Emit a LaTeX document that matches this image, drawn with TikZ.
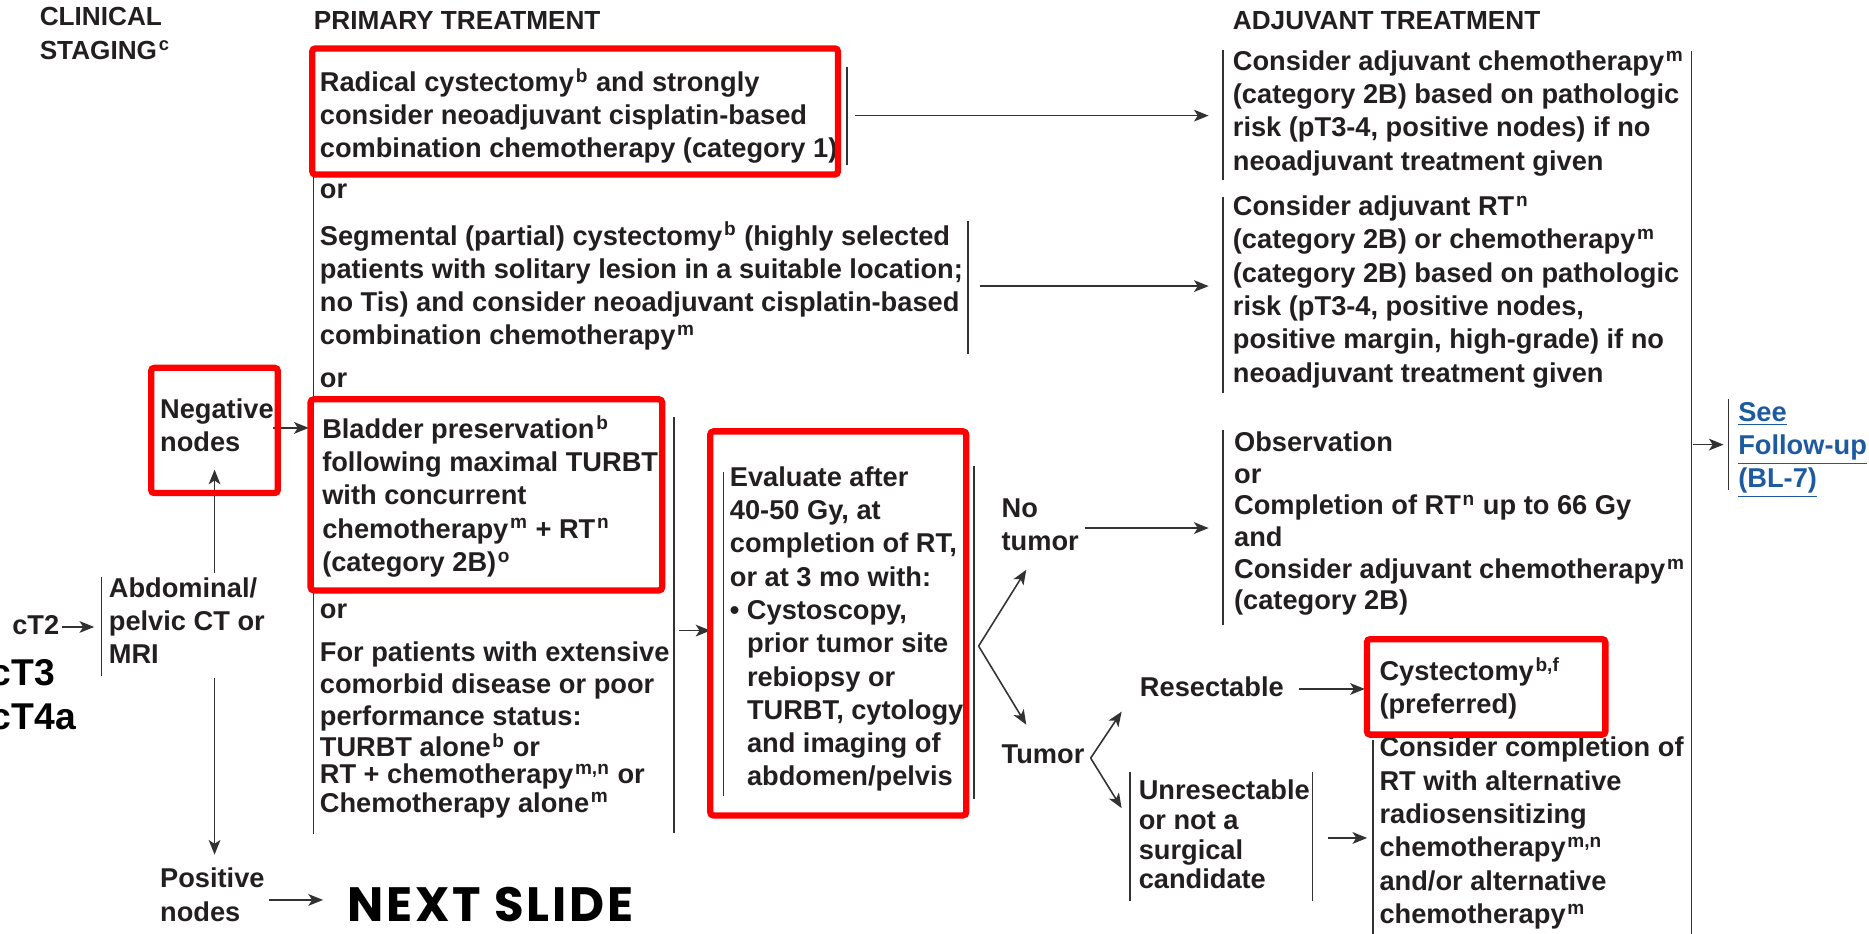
\documentclass[tikz,border=0pt]{standalone}
\usepackage{fontspec}
\setmainfont{Liberation Sans}
\newfontfamily\slidefont[LetterSpace=6]{Poppins}
\usetikzlibrary{arrows.meta}
\definecolor{textgray}{RGB}{35,31,32}
\definecolor{linegray}{RGB}{50,50,50}
\definecolor{boxred}{RGB}{255,0,0}
\definecolor{linkblue}{RGB}{30,90,160}
\newcommand{\hoch}[1]{\kern0.8pt\textsuperscript{#1}}

\tikzset{
  txt/.style={anchor=north west, inner sep=0pt, align=left, text=textgray,
    font=\fontsize{13}{15.9}\selectfont\bfseries, execute at begin node=\strut},
  head/.style={anchor=base west, inner sep=0pt, text=textgray,
    font=\fontsize{12.5}{15.9}\selectfont\bfseries},
  big/.style={anchor=base west, inner sep=0pt, text=black,
    font=\fontsize{17.8}{20}\selectfont\bfseries},
  bar/.style={draw=linegray, line width=0.7pt},
  pf/.style={draw=linegray, line width=0.75pt, -{Stealth[length=7pt,width=5.6pt,inset=1.8pt]}},
  redbox/.style={draw=boxred, line width=3pt, rounded corners=1.5pt},
}

\begin{document}
\begin{tikzpicture}[x=0.2mm, y=-0.2mm]
\useasboundingbox (0,0) rectangle (1568,783);

    % headers
    \node[txt, font=\fontsize{12.5}{15.9}\selectfont\bfseries] (clin) at (33,6) {CLINICAL\\STAGING\hoch{c}};
    \node[head] (prim) at (263,25) {PRIMARY TREATMENT};
    \node[head] (adjh) at (1034,25) {ADJUVANT TREATMENT};

    % clinical staging
    \node[txt] (ct2) at (10,512) {cT2};
    \node[big] (ct3) at (-8,575) {cT3};
    \node[big] (ct4) at (-8,612) {cT4a};
    \node[txt] (abd) at (91,484) {Abdominal/\\pelvic CT or\\MRI};
    \node[txt] (neg) at (134,334) {Negative\\nodes};
    \node[txt] (pos) at (134,728) {Positive\\nodes};
    \node[anchor=base west, inner sep=0pt, text=black,
        font=\slidefont\fontsize{23}{24}\selectfont\bfseries] (next) at (291,773) {NEXT SLIDE};

    % primary treatment
    \node[txt] (rad) at (268,57) {Radical cystectomy\hoch{b} and strongly\\consider neoadjuvant cisplatin-based\\combination chemotherapy (category 1)};
    \node[txt] (or1) at (268,147) {or};
    \node[txt] (seg) at (268,186) {Segmental (partial) cystectomy\hoch{b} (highly selected\\patients with solitary lesion in a suitable location;\\no Tis) and consider neoadjuvant cisplatin-based\\combination chemotherapy\hoch{m}};
    \node[txt] (or2) at (268,305) {or};
    \node[txt] (blad) at (270,348) {Bladder preservation\hoch{b}\\following maximal TURBT\\with concurrent\\chemotherapy\hoch{m} + RT\hoch{n}\\(category 2B)\hoch{o}};
    \node[txt] (or3) at (268,499) {or};
    \node[txt] (pat) at (268,538.4) {For patients with extensive\\[-0.8pt]comorbid disease or poor\\[-0.8pt]performance status:\\[-0.8pt]TURBT alone\hoch{b} or\\[-3pt]RT + chemotherapy\hoch{m,n} or\\[-2.4pt]Chemotherapy alone\hoch{m}};

    % evaluation
    \node[txt] (eval) at (612,391) {Evaluate after\\40-50 Gy, at\\completion of RT,\\or at 3 mo with:\\\textbullet\ Cystoscopy,\\\hphantom{\textbullet\ }prior tumor site\\\hphantom{\textbullet\ }rebiopsy or\\\hphantom{\textbullet\ }TURBT, cytology\\\hphantom{\textbullet\ }and imaging of\\\hphantom{\textbullet\ }abdomen/pelvis};
    \node[txt] (notum) at (840,418) {No\\tumor};
    \node[txt] (tum) at (840,621) {Tumor};
    \node[txt] (res) at (956,564) {Resectable};
    \node[txt] (unres) at (955,654) {Unresectable\\[-1.7pt]or not a\\[-1.7pt]surgical\\[-1.7pt]candidate};

    % adjuvant treatment
    \node[txt] (adj1) at (1034,42) {Consider adjuvant chemotherapy\hoch{m}\\(category 2B) based on pathologic\\risk (pT3-4, positive nodes) if no\\neoadjuvant treatment given};
    \node[txt] (adj2) at (1034,164) {Consider adjuvant RT\hoch{n}\\(category 2B) or chemotherapy\hoch{m}\\(category 2B) based on pathologic\\risk (pT3-4, positive nodes,\\positive margin, high-grade) if no\\neoadjuvant treatment given};
    \node[txt] (obs) at (1035,362) {Observation\\[-0.8pt]or\\[-0.8pt]Completion of RT\hoch{n} up to 66 Gy\\[-0.8pt]and\\[-0.8pt]Consider adjuvant chemotherapy\hoch{m}\\[-0.8pt](category 2B)};
    \node[txt] (cyst) at (1157,551) {Cystectomy\hoch{b,f}\\(preferred)};
    \node[txt] (comp) at (1157,618) {Consider completion of\\RT with alternative\\radiosensitizing\\chemotherapy\hoch{m,n}\\and/or alternative\\chemotherapy\hoch{m}};
    \node[txt, text=linkblue] (see) at (1458,337) {\underline{See}\\\underline{Follow-up}\\\underline{(BL-7)}};

    % bars
    \draw[bar] (85,484) -- (85,567);
    \draw[bar] (263,56) -- (263,700);
    \draw[bar] (710.5,56) -- (710.5,138.5);
    \draw[bar] (812,185) -- (812,297);
    \draw[bar] (565.5,350) -- (565.5,699);
    \draw[bar] (607,396) -- (607,668);
    \draw[bar] (817,391) -- (817,670);
    \draw[bar] (1026,42) -- (1026,151);
    \draw[bar] (1026,165) -- (1026,330);
    \draw[bar] (1026,361) -- (1026,524);
    \draw[bar] (948,648) -- (948,756);
    \draw[bar] (1101,648) -- (1101,756);
    \draw[bar] (1152,621) -- (1152,790);
    \draw[bar] (1419,43) -- (1419,790);
    \draw[bar] (1450,335) -- (1450,411);

    % connector ends
    \coordinate (radout) at (717,97);    \coordinate (adj1in) at (1014,97);
    \coordinate (segout) at (822,240);   \coordinate (adj2in) at (1014,240);
    \coordinate (ntout) at (910,443);    \coordinate (obsin) at (1014,443);
    \coordinate (negout) at (229,359);   \coordinate (bladin) at (259,359);
    \coordinate (abdup) at (180,481);    \coordinate (negin) at (180,394);
    \coordinate (abddn) at (180,569);    \coordinate (posin) at (180,717);
    \coordinate (ct2out) at (52,526);    \coordinate (abdin) at (79,526);
    \coordinate (posout) at (226,755);   \coordinate (nextin) at (271,755);
    \coordinate (bladout) at (570,529);  \coordinate (evalin) at (596,529);
    \coordinate (evalout) at (821,542);
    \coordinate (ntin) at (861,478);     \coordinate (tumin) at (861,608);
    \coordinate (tumout) at (915,636);
    \coordinate (resin) at (941,597);    \coordinate (unresin) at (941,678);
    \coordinate (resout) at (1090,578);  \coordinate (cystin) at (1145,578);
    \coordinate (unresout) at (1114,703); \coordinate (compin) at (1147,703);
    \coordinate (allout) at (1420,373);  \coordinate (seein) at (1446,373);

    % connectors
    \draw[pf] (radout) -- (adj1in);
    \draw[pf] (segout) -- (adj2in);
    \draw[pf] (ntout) -- (obsin);
    \draw[pf] (negout) -- (bladin);
    \draw[pf] (abdup) -- (negin);
    \draw[pf] (abddn) -- (posin);
    \draw[pf] (ct2out) -- (abdin);
    \draw[pf] (posout) -- (nextin);
    \draw[pf] (bladout) -- (evalin);
    \draw[pf] (evalout) -- (ntin);
    \draw[pf] (evalout) -- (tumin);
    \draw[pf] (tumout) -- (resin);
    \draw[pf] (tumout) -- (unresin);
    \draw[pf] (resout) -- (cystin);
    \draw[pf] (unresout) -- (compin);
    \draw[pf] (allout) -- (seein);

    % highlighted boxes
    \draw[redbox] (262,40.6) rectangle (703,146.4);
    \draw[redbox] (126.8,308.6) rectangle (233.1,413.6);
    \draw[redbox] (260.6,335) rectangle (555.5,495.3);
    \draw[redbox] (595.9,361.9) rectangle (810.6,684.1);
    \draw[redbox] (1146.8,536.2) rectangle (1346.8,616.3);

\end{tikzpicture}
\end{document}
